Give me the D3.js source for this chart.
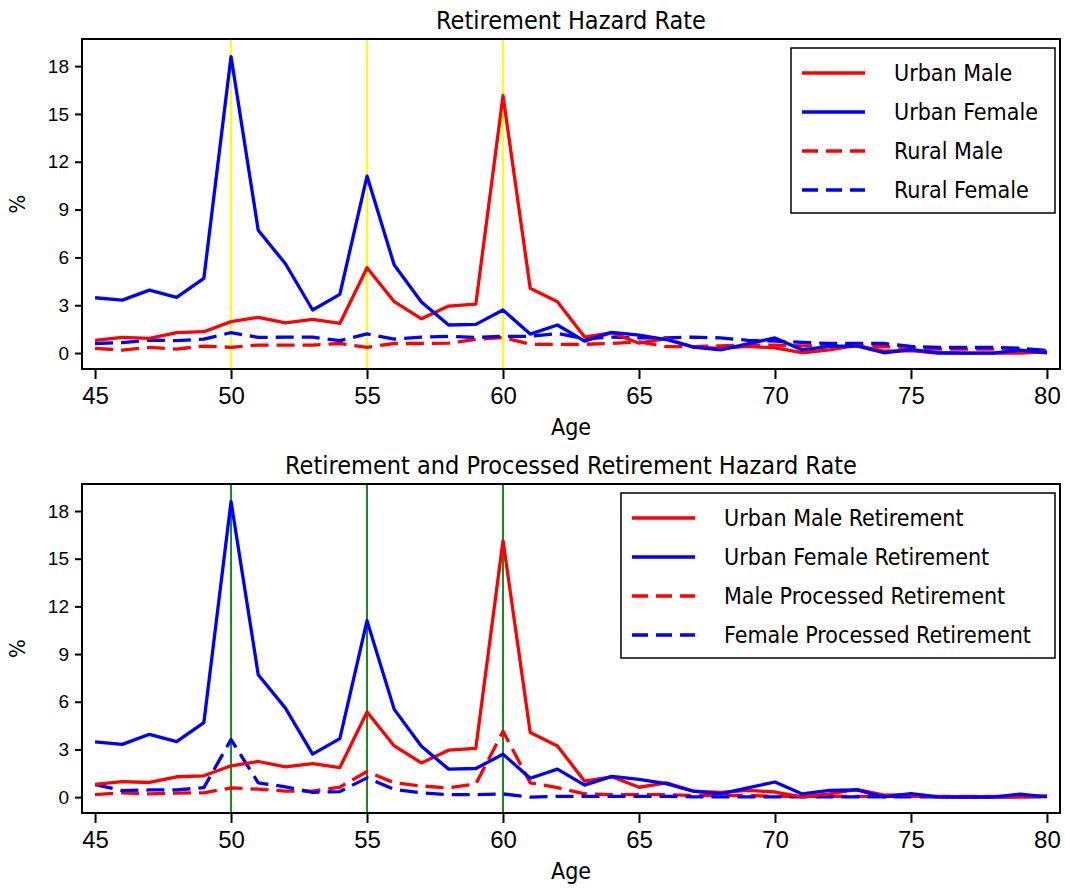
<!DOCTYPE html>
<html>
<head>
<meta charset="utf-8">
<script src="https://cdn.jsdelivr.net/npm/d3@7/dist/d3.min.js"></script>
<style>
  body { margin: 0; background: #fff; }
  svg { font-family: "DejaVu Sans Condensed", "DejaVu Sans", sans-serif; }
</style>
</head>
<body>
<div id="chart"></div>
<script>
// --- Data ---
const ages = [45, 46, 47, 48, 49, 50, 51, 52, 53, 54, 55, 56, 57, 58, 59, 60, 61, 62,
  63, 64, 65, 66, 67, 68, 69, 70, 71, 72, 73, 74, 75, 76, 77, 78, 79, 80];

const urbanMale = [0.8, 0.98, 0.92, 1.28, 1.34, 1.97, 2.24, 1.9, 2.11, 1.86, 5.35, 3.22, 2.15, 2.95, 3.07, 16.14, 4.06, 3.22,
  1.0, 1.28, 0.62, 0.9, 0.38, 0.3, 0.42, 0.32, 0.02, 0.2, 0.48, 0.12, 0.15, 0.0, 0.0, 0.0, 0.0, 0.08];
const urbanFemale = [3.47, 3.32, 3.95, 3.49, 4.68, 18.6, 7.7, 5.6, 2.7, 3.68, 11.1, 5.52, 3.2, 1.76, 1.8, 2.7, 1.19, 1.76,
  0.75, 1.3, 1.12, 0.85, 0.37, 0.2, 0.58, 0.95, 0.2, 0.42, 0.45, 0.02, 0.22, 0.02, 0.0, 0.0, 0.18, 0.02];
const ruralMale = [0.29, 0.19, 0.36, 0.25, 0.44, 0.36, 0.5, 0.5, 0.5, 0.6, 0.36, 0.6, 0.6, 0.62, 0.86, 0.98, 0.55, 0.55,
  0.55, 0.6, 0.7, 0.4, 0.4, 0.45, 0.5, 0.5, 0.45, 0.45, 0.45, 0.4, 0.35, 0.25, 0.25, 0.25, 0.25, 0.15];
const ruralFemale = [0.6, 0.65, 0.82, 0.78, 0.88, 1.28, 0.98, 1.0, 1.0, 0.78, 1.2, 0.88, 1.0, 1.05, 0.98, 1.05, 1.05, 1.23,
  0.9, 1.0, 0.95, 0.95, 1.0, 0.95, 0.8, 0.75, 0.67, 0.6, 0.6, 0.6, 0.42, 0.35, 0.35, 0.35, 0.3, 0.15];
const maleProcessed = [0.16, 0.27, 0.2, 0.25, 0.27, 0.58, 0.5, 0.38, 0.38, 0.63, 1.61, 0.9, 0.7, 0.58, 0.82, 4.14, 0.9, 0.6,
  0.2, 0.15, 0.15, 0.15, 0.1, 0.1, 0.1, 0.05, 0.05, 0.05, 0.05, 0.05, 0.05, 0.05, 0.05, 0.05, 0.05, 0.05];
const femaleProcessed = [0.79, 0.41, 0.45, 0.45, 0.6, 3.62, 0.9, 0.65, 0.3, 0.35, 1.21, 0.48, 0.27, 0.15, 0.15, 0.2, 0.0, 0.05,
  0.05, 0.05, 0.05, 0.05, 0.02, 0.02, 0.02, 0.02, 0.02, 0.02, 0.02, 0.02, 0.02, 0.02, 0.02, 0.02, 0.02, 0.02];

const xTicks = [45, 50, 55, 60, 65, 70, 75, 80];
const yTicks = [0, 3, 6, 9, 12, 15, 18];
const refAges = [50, 55, 60];

// --- Dimensions ---
const W = 1065, H = 889;
const plotLeft = 82, plotRight = 1060;

const svg = d3.select("#chart").append("svg")
  .attr("width", W)
  .attr("height", H);

svg.append("rect").attr("width", W).attr("height", H).attr("fill", "#fff");

const x = d3.scaleLinear().domain([44.52, 80.48]).range([plotLeft, plotRight]);

function drawPanel(cfg) {
  const y = d3.scaleLinear().domain([-1, 19.7]).range([cfg.bottom, cfg.top]);
  const g = svg.append("g");

  // reference lines
  g.selectAll(".ref")
    .data(refAges)
    .join("line")
    .attr("x1", d => x(d)).attr("x2", d => x(d))
    .attr("y1", cfg.top).attr("y2", cfg.bottom)
    .attr("stroke", cfg.refColor)
    .attr("stroke-width", 2);

  const line = d3.line()
    .x((d, i) => x(ages[i]))
    .y(d => y(d));

  // dashed first, solids on top
  const order = cfg.series.slice().sort((a, b) => (b.dash ? 1 : 0) - (a.dash ? 1 : 0));
  order.forEach(s => {
    g.append("path")
      .datum(s.values)
      .attr("fill", "none")
      .attr("stroke", s.color)
      .attr("stroke-width", 3.3)
      .attr("stroke-dasharray", s.dash ? "18,8" : null)
      .attr("stroke-linejoin", "round")
      .attr("d", line);
  });

  // frame
  g.append("rect")
    .attr("x", plotLeft).attr("y", cfg.top)
    .attr("width", plotRight - plotLeft).attr("height", cfg.bottom - cfg.top)
    .attr("fill", "none").attr("stroke", "#000").attr("stroke-width", 2);

  // axes
  const ax = g.append("g")
    .attr("transform", `translate(0,${cfg.bottom})`)
    .call(d3.axisBottom(x).tickValues(xTicks).tickSize(10).tickPadding(8).tickFormat(d3.format("d")));
  ax.select(".domain").remove();
  ax.selectAll("line").attr("stroke-width", 2);
  ax.selectAll("text").style("font-size", "24px").attr("fill", "#000");

  const ay = g.append("g")
    .attr("transform", `translate(${plotLeft},0)`)
    .call(d3.axisLeft(y).tickValues(yTicks).tickSize(7).tickPadding(6));
  ay.select(".domain").remove();
  ay.selectAll("line").attr("stroke-width", 2);
  ay.selectAll("text").style("font-size", "19px").attr("fill", "#000");

  // titles
  svg.append("text")
    .attr("x", (plotLeft + plotRight) / 2).attr("y", cfg.top - 10)
    .attr("text-anchor", "middle")
    .style("font-size", "25px")
    .text(cfg.title);

  svg.append("text")
    .attr("x", (plotLeft + plotRight) / 2).attr("y", cfg.bottom + 66)
    .attr("text-anchor", "middle")
    .style("font-size", "23px")
    .text("Age");

  svg.append("text")
    .attr("transform", `translate(25,${(cfg.top + cfg.bottom) / 2}) rotate(-90)`)
    .attr("text-anchor", "middle")
    .style("font-size", "22px")
    .text("%");

  // legend
  const lg = svg.append("g").attr("transform", `translate(${cfg.legX},${cfg.top + 9})`);
  lg.append("rect")
    .attr("width", plotRight - 5 - cfg.legX).attr("height", 165)
    .attr("fill", "#fff").attr("stroke", "#000").attr("stroke-width", 1.5);
  cfg.series.forEach((s, i) => {
    const row = lg.append("g").attr("transform", `translate(0,${25 + i * 39})`);
    row.append("line")
      .attr("x1", 11).attr("x2", 74).attr("y1", 0).attr("y2", 0)
      .attr("stroke", s.color).attr("stroke-width", 3.3)
      .attr("stroke-dasharray", s.dash ? "16,8" : null);
    row.append("text")
      .attr("x", 103).attr("y", 8)
      .style("font-size", "23px")
      .text(s.name);
  });
}

drawPanel({
  title: "Retirement Hazard Rate",
  top: 39, bottom: 369,
  refColor: "#ffff00",
  legX: 791,
  series: [
    { name: "Urban Male", values: urbanMale, color: "#ff0000", dash: false },
    { name: "Urban Female", values: urbanFemale, color: "#0000ff", dash: false },
    { name: "Rural Male", values: ruralMale, color: "#ff0000", dash: true },
    { name: "Rural Female", values: ruralFemale, color: "#0000ff", dash: true }
  ]
});

drawPanel({
  title: "Retirement and Processed Retirement Hazard Rate",
  top: 484, bottom: 813,
  refColor: "#1a8a1a",
  legX: 621,
  series: [
    { name: "Urban Male Retirement", values: urbanMale, color: "#ff0000", dash: false },
    { name: "Urban Female Retirement", values: urbanFemale, color: "#0000ff", dash: false },
    { name: "Male Processed Retirement", values: maleProcessed, color: "#ff0000", dash: true },
    { name: "Female Processed Retirement", values: femaleProcessed, color: "#0000ff", dash: true }
  ]
});
</script>
</body>
</html>
